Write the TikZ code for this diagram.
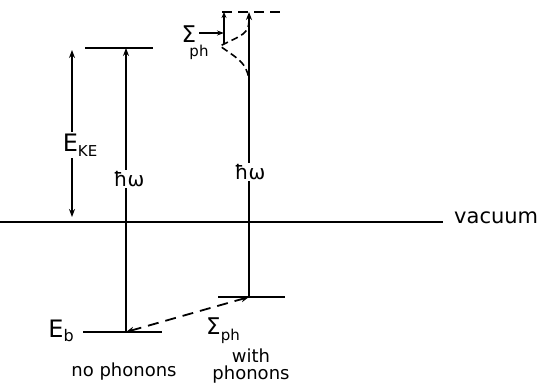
\documentclass[tikz,border=0pt]{standalone}
\usepackage{fontspec}
\setmainfont{DejaVu Sans}
\usetikzlibrary{arrows.meta}
\tikzset{
  level/.style={line width=2pt},
  dashlevel/.style={line width=2pt, dash pattern=on 10pt off 6pt},
  photon/.style={line width=1.8pt, -{Stealth[length=8pt,width=6pt]}},
  lbl/.style={fill=white, inner sep=1.5pt, font=\fontsize{20}{22}\selectfont},
  txt/.style={inner sep=0pt, font=\fontsize{18}{20}\selectfont}
}
\begin{document}
\begin{tikzpicture}[x=1pt, y=1pt]
  \useasboundingbox (0,0) rectangle (541,384);
  % vacuum level
  \coordinate (vacL) at (0,162);
  \coordinate (vacR) at (443,162);
  \draw[level] (vacL) -- (vacR);
  \node[txt, anchor=west, font=\fontsize{21}{23}\selectfont] (vac) at (454,166) {vacuum};
  % no phonons
  \coordinate (ebL) at (83,52);
  \coordinate (ebR) at (162,52);
  \coordinate (eb) at (126,52);
  \coordinate (finL) at (85,336);
  \coordinate (finR) at (153,336);
  \coordinate (fin) at (126,336);
  \draw[level] (ebL) -- (ebR);
  \draw[level] (finL) -- (finR);
  \draw[photon] (eb) -- (fin);
  \node[lbl] (hw1) at (129,205) {ħω};
  \node[txt, font=\fontsize{24}{26}\selectfont] (Eb) at (61,53) {E\raisebox{-0.35ex}{\fontsize{16}{18}\selectfont b}};
  \coordinate (keT) at (72,334);
  \coordinate (keB) at (72,167);
  \draw[line width=1.8pt, {Stealth[length=8pt,width=6pt]}-{Stealth[length=8pt,width=6pt]}] (keB) -- (keT);
  \node[lbl, font=\fontsize{24}{26}\selectfont] (EKE) at (80,239) {E\raisebox{-0.4ex}{\fontsize{15}{17}\selectfont KE}};
  % with phonons
  \coordinate (phL) at (218,87);
  \coordinate (phR) at (285,87);
  \coordinate (ph) at (249,87);
  \coordinate (topL) at (222,372);
  \coordinate (topR) at (282,372);
  \coordinate (top) at (249,372);
  \draw[level] (phL) -- (phR);
  \draw[dashlevel] (topL) -- (topR);
  \draw[photon] (ph) -- (top);
  \node[lbl] (hw2) at (250,212) {ħω};
  % line shape
  \coordinate (peak) at (220,338);
  \draw[line width=1.6pt, dash pattern=on 7pt off 4pt]
    (249,364) .. controls (249,350) and (242,349) .. (peak)
    .. controls (238,325) and (246,322) .. (249,305);
  \coordinate (shB) at (224,340);
  \coordinate (shT) at (224,372);
  \draw[line width=1.6pt, -{Stealth[length=6pt,width=5pt]}] (shB) -- (shT);
  \node[txt, font=\fontsize{23}{25}\selectfont] (sig) at (189,350) {Σ};
  \node[txt, font=\fontsize{15}{17}\selectfont] (sigph) at (199,332) {ph};
  \draw[line width=1.5pt, -{Stealth[length=7pt,width=5pt]}] (sig.east) ++(3,1) -- (shB |- 0,351);
  % shift of binding energy
  \draw[line width=1.8pt, dash pattern=on 11pt off 7pt,
    {Stealth[length=8pt,width=6pt]}-{Stealth[length=8pt,width=6pt]}] (eb) -- (ph);
  \node[txt, font=\fontsize{23}{25}\selectfont] (Sph) at (223,53) {Σ\raisebox{-0.45ex}{\fontsize{15}{17}\selectfont ph}};
  % captions
  \node[txt] (cap1) at (124,12) {no phonons};
  \node[txt] (cap2) at (251,28) {with};
  \node[txt] (cap3) at (251,9) {phonons};
\end{tikzpicture}
\end{document}
